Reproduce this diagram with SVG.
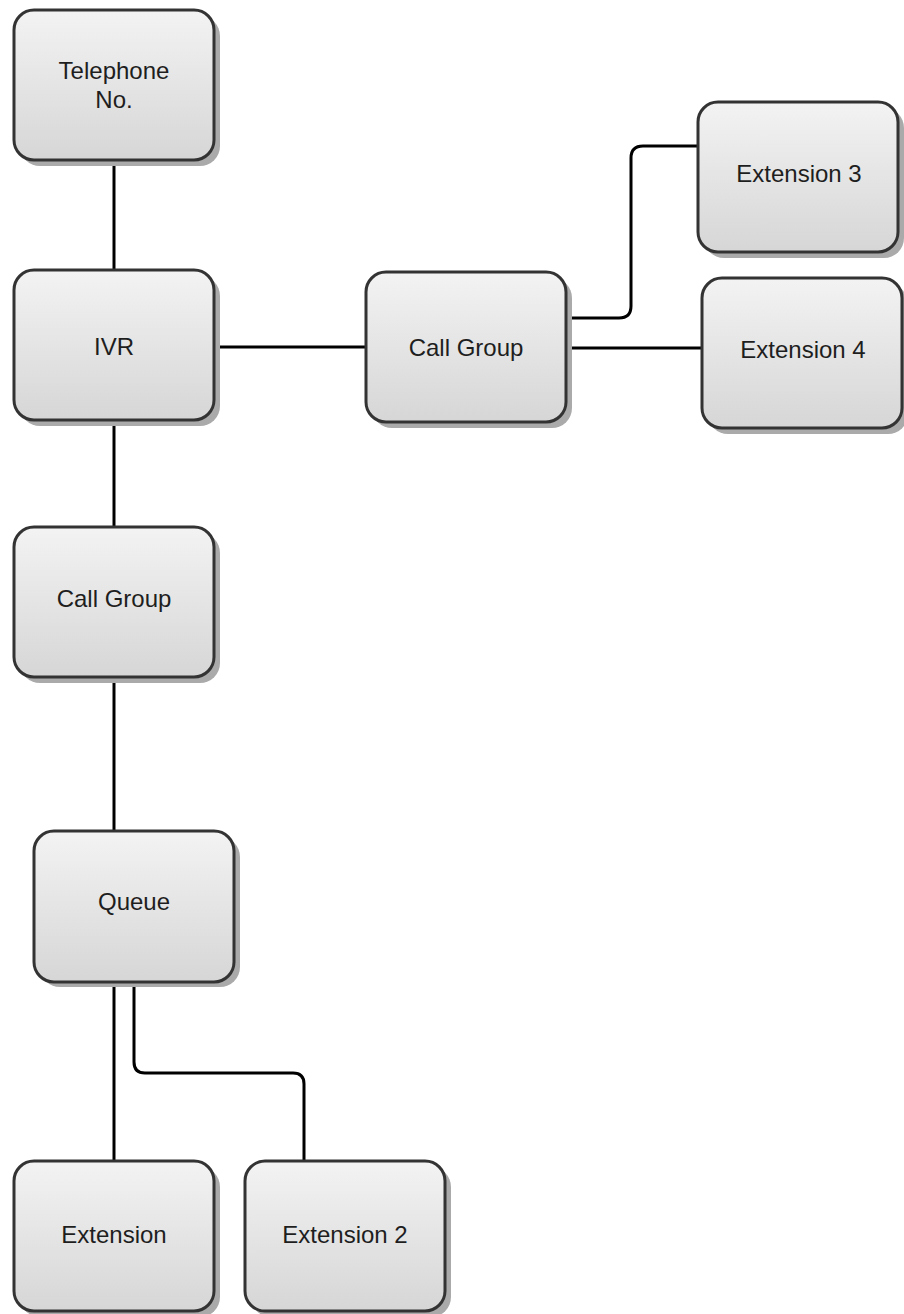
<svg xmlns="http://www.w3.org/2000/svg" width="904" height="1314" viewBox="0 0 904 1314">
<style>
.box{fill:url(#g);stroke:#333;stroke-width:3}
.sh{fill:#aaa}
.t{font-family:"Liberation Sans",Arial,sans-serif;font-size:24px;fill:#1e1e1e;text-anchor:middle}
.c{fill:none;stroke:#000;stroke-width:3;stroke-linejoin:round}
</style>
<defs>
<linearGradient id="g" x1="0" y1="0" x2="0" y2="1">
<stop offset="0" stop-color="#f3f3f3"/>
<stop offset="1" stop-color="#d6d6d6"/>
</linearGradient>
</defs>
<rect width="904" height="1314" fill="#fff"/>
<g id="connectors">
<path class="c" d="M114 160V270"/>
<path class="c" d="M214 347H366"/>
<path class="c" d="M114 420V527"/>
<path class="c" d="M114 677V830"/>
<path class="c" d="M114 982V1161"/>
<path class="c" d="M134 982V1062Q134 1073 145 1073H293Q304 1073 304 1084V1161"/>
<path class="c" d="M566 318H619Q631 318 631 306V158Q631 146 643 146H698"/>
<path class="c" d="M566 348H702"/>
</g>
<g id="telephone">
<rect class="sh" x="20" y="16" width="200" height="150" rx="20"/>
<rect class="box" x="14" y="10" width="200" height="150" rx="20"/>
<text class="t" x="114" y="79">Telephone</text>
<text class="t" x="114" y="108">No.</text>
</g>
<g id="ivr">
<rect class="sh" x="20" y="276" width="200" height="150" rx="20"/>
<rect class="box" x="14" y="270" width="200" height="150" rx="20"/>
<text class="t" x="114" y="355">IVR</text>
</g>
<g id="callgroup2">
<rect class="sh" x="372" y="278" width="200" height="150" rx="20"/>
<rect class="box" x="366" y="272" width="200" height="150" rx="20"/>
<text class="t" x="466" y="356">Call Group</text>
</g>
<g id="ext3">
<rect class="sh" x="704" y="108" width="200" height="150" rx="20"/>
<rect class="box" x="698" y="102" width="200" height="150" rx="20"/>
<text class="t" x="799" y="182">Extension 3</text>
</g>
<g id="ext4">
<rect class="sh" x="708" y="284" width="200" height="150" rx="20"/>
<rect class="box" x="702" y="278" width="200" height="150" rx="20"/>
<text class="t" x="803" y="358">Extension 4</text>
</g>
<g id="callgroup1">
<rect class="sh" x="20" y="533" width="200" height="150" rx="20"/>
<rect class="box" x="14" y="527" width="200" height="150" rx="20"/>
<text class="t" x="114" y="607">Call Group</text>
</g>
<g id="queue">
<rect class="sh" x="40" y="837" width="200" height="150" rx="20"/>
<rect class="box" x="34" y="831" width="200" height="151" rx="20"/>
<text class="t" x="134" y="910">Queue</text>
</g>
<g id="extension">
<rect class="sh" x="20" y="1167" width="200" height="150" rx="20"/>
<rect class="box" x="14" y="1161" width="200" height="150" rx="20"/>
<text class="t" x="114" y="1243">Extension</text>
</g>
<g id="ext2">
<rect class="sh" x="251" y="1167" width="200" height="150" rx="20"/>
<rect class="box" x="245" y="1161" width="200" height="150" rx="20"/>
<text class="t" x="345" y="1243">Extension 2</text>
</g>
</svg>
